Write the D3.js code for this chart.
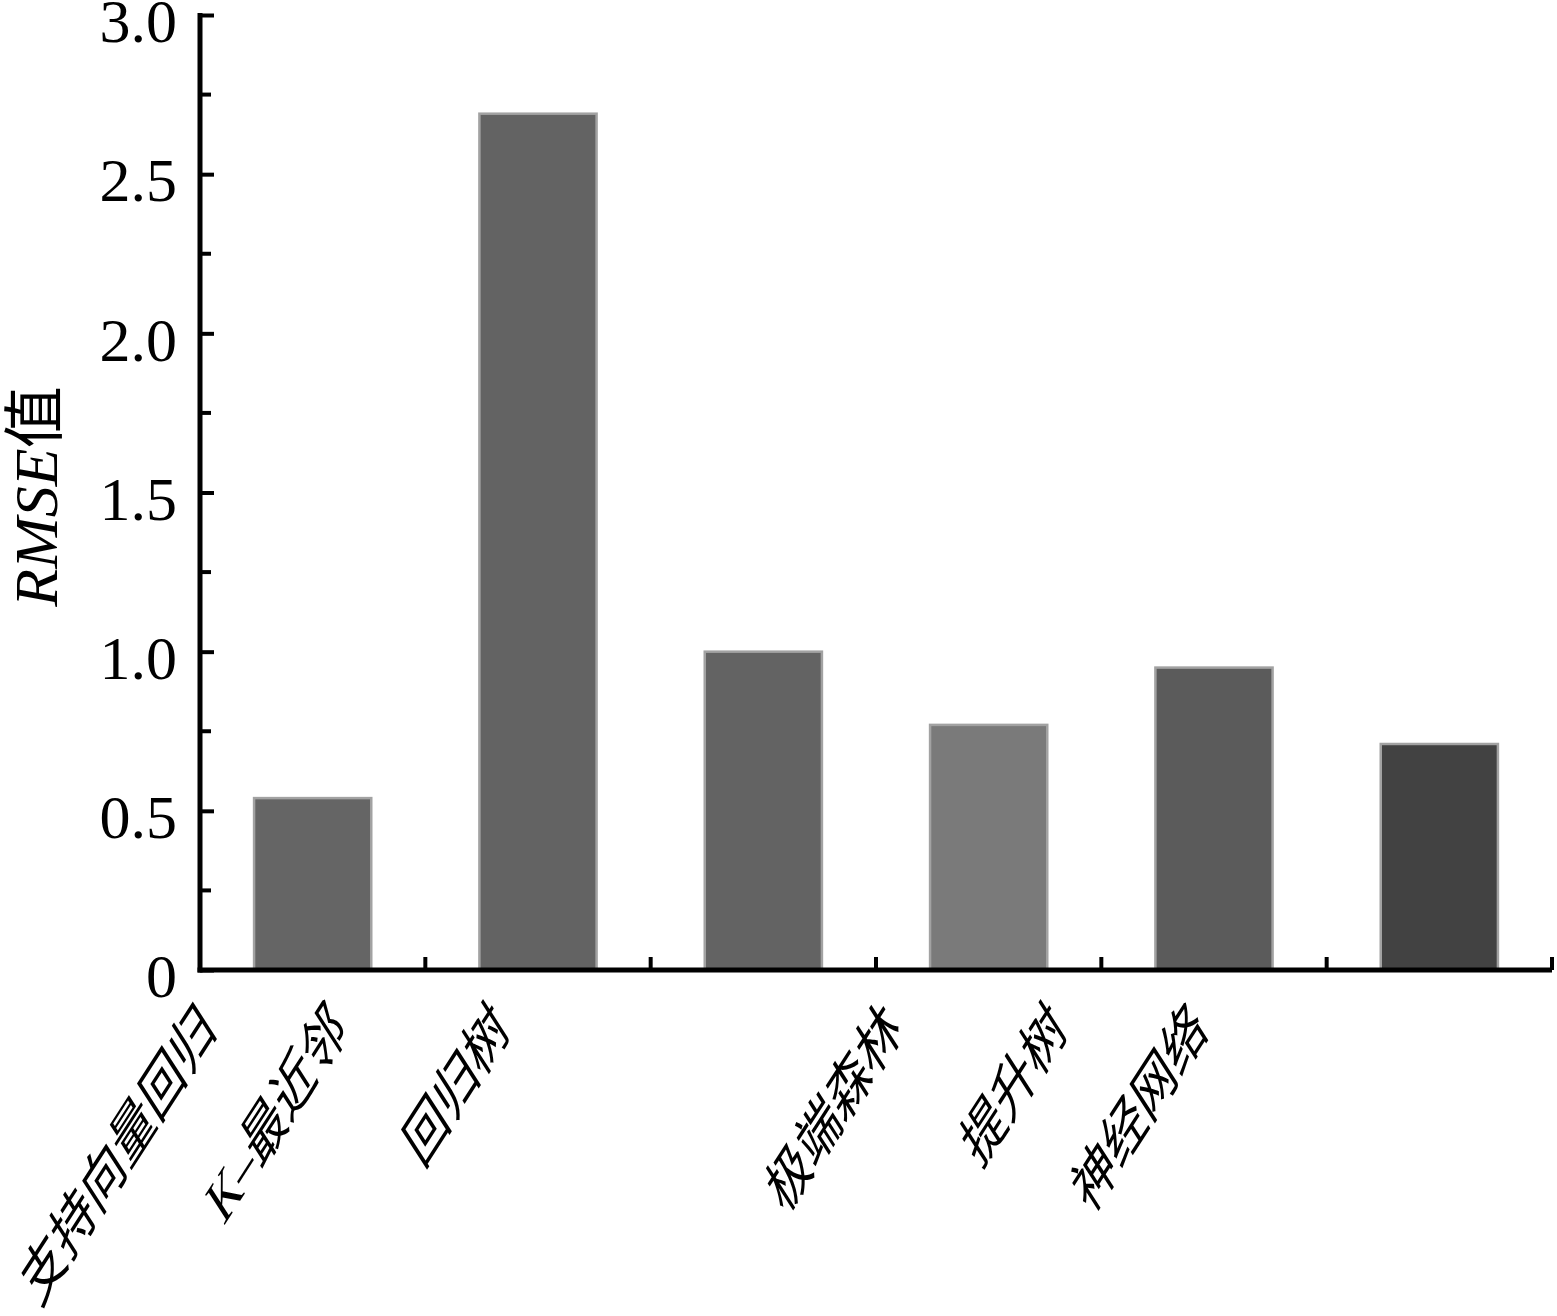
<!DOCTYPE html>
<html><head><meta charset="utf-8">
<script src="https://cdn.jsdelivr.net/npm/d3@7"></script>
<style>html,body{margin:0;padding:0;background:#fff;}</style>
</head><body>
<svg id="chart" width="1557" height="1316"></svg>
<script>
// ---- data ----
const categories = ["支持向量回归", "K–最近邻", "回归树", "极端森林", "提升树", "神经网络"];
const rmseValues = [0.54, 2.69, 1.00, 0.77, 0.95, 0.71];
const yTickValues = [0, 0.5, 1.0, 1.5, 2.0, 2.5, 3.0];
const yTickLabels = ["0", "0.5", "1.0", "1.5", "2.0", "2.5", "3.0"];
const yMinorTicks = [0.25, 0.75, 1.25, 1.75, 2.25, 2.75];
const yTitleItalic = "RMSE";
const yTitleRest = "值";

// ---- styles / layout ----
const barColors = ["#656565", "#636363", "#636363", "#7a7a7a", "#5b5b5b", "#424242"];
const labelShift = [-95, -189, -252, -85, -145, -230];
const plotLeft = 200, plotRight = 1552, plotTop = 15, plotBottom = 970;

const svg = d3.select("#chart");
const x = d3.scaleBand().domain(categories).range([plotLeft, plotRight]).paddingInner(0.48).paddingOuter(0.24);
const y = d3.scaleLinear().domain([0, 3]).range([plotBottom, plotTop]);

// bars
svg.append("g").selectAll("rect").data(categories).join("rect")
  .attr("x", d => x(d))
  .attr("y", (d, i) => y(rmseValues[i]))
  .attr("width", x.bandwidth())
  .attr("height", (d, i) => y(0) - y(rmseValues[i]))
  .attr("fill", (d, i) => barColors[i])
  .attr("stroke", "#a2a2a2")
  .attr("stroke-width", 2.5);

// y axis
const serif = "'Liberation Serif', 'Times New Roman', serif";
const yAxis = d3.axisLeft(y).tickValues(yTickValues)
  .tickFormat((d, i) => yTickLabels[i])
  .tickSizeInner(-14).tickSizeOuter(0).tickPadding(23);
const gy = svg.append("g").attr("transform", `translate(${plotLeft},0)`).call(yAxis);
gy.select(".domain").remove();
gy.selectAll(".tick line").attr("stroke", "#000").attr("stroke-width", 4);
gy.selectAll(".tick text").attr("font-family", serif).attr("font-size", 62)
  .attr("fill", "#000").attr("dy", "0.43em");

// minor y ticks
svg.append("g").selectAll("line").data(yMinorTicks).join("line")
  .attr("x1", plotLeft).attr("x2", plotLeft + 11)
  .attr("y1", d => y(d)).attr("y2", d => y(d))
  .attr("stroke", "#000").attr("stroke-width", 4);

// axis lines
svg.append("line").attr("x1", plotLeft).attr("x2", plotLeft).attr("y1", y(3) - 2).attr("y2", plotBottom + 2.5)
  .attr("stroke", "#000").attr("stroke-width", 5);
svg.append("line").attr("x1", plotLeft - 2.5).attr("x2", plotRight).attr("y1", plotBottom).attr("y2", plotBottom)
  .attr("stroke", "#000").attr("stroke-width", 5);

// x ticks at band boundaries
svg.append("g").selectAll("line").data(categories).join("line")
  .attr("x1", d => x(d) + x.bandwidth() + x.step() * x.paddingOuter())
  .attr("x2", d => x(d) + x.bandwidth() + x.step() * x.paddingOuter())
  .attr("y1", plotBottom).attr("y2", plotBottom - 13)
  .attr("stroke", "#000").attr("stroke-width", 4);

// x labels
svg.append("g").selectAll("text").data(categories).join("text")
  .attr("transform", (d, i) => `translate(${x(d) + x.bandwidth() / 2 + labelShift[i]},${plotBottom + 62}) scale(1,1.55) rotate(-45)`)
  .attr("text-anchor", "end")
  .attr("font-family", "'Liberation Serif', 'Noto Sans CJK SC', serif")
  .attr("font-size", 42)
  .attr("fill", "#000")
  .text(d => d);

// y title
const t = svg.append("text")
  .attr("transform", `translate(57,${(plotTop + plotBottom) / 2 + 4}) rotate(-90)`)
  .attr("text-anchor", "middle")
  .attr("font-family", "'Liberation Serif', 'Noto Sans CJK SC', serif")
  .attr("font-size", 62).attr("fill", "#000");
t.append("tspan").attr("font-style", "italic").text(yTitleItalic);
t.append("tspan").text(yTitleRest);
</script>
</body></html>
